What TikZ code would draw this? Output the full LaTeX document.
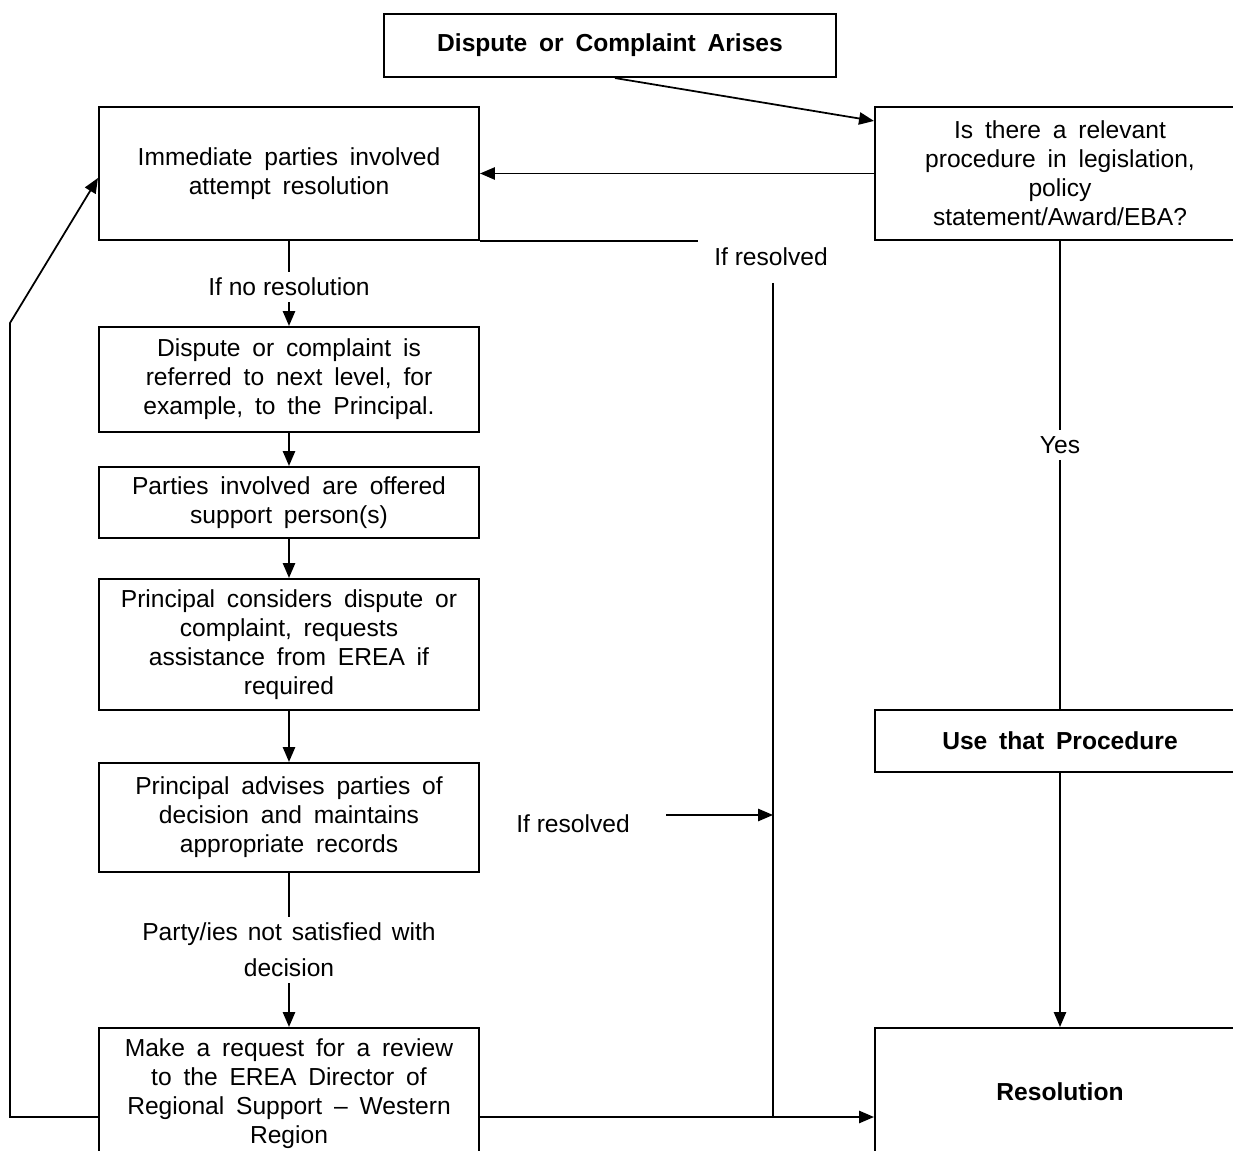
\documentclass[tikz,border=0pt]{standalone}
\usepackage{fontspec}
\setmainfont{Liberation Sans}
\usetikzlibrary{arrows.meta}
\newcommand\widewords{\spaceskip=0.48em plus 0.1em\relax}
\newcommand\midwords{\spaceskip=0.4em plus 0.1em\relax}

\begin{document}
\begin{tikzpicture}[x=0.02cm,y=-0.02cm,
    >={Triangle[length=8.5pt,width=7pt]},
    every node/.style={font=\fontsize{14}{16.5}\selectfont},
    box/.style={draw,line width=1.2pt,align=center,inner sep=0pt,
      minimum width=7.6cm,font=\fontsize{14}{16.5}\selectfont\widewords},
    link/.style={line width=1pt}]
  \useasboundingbox (0,0) rectangle (1233,1151);
  \clip (0,0) rectangle (1233,1151);
  % boxes
  \node[box,minimum width=9.04cm,minimum height=1.26cm] (arises) at (610,45.5) {\bfseries Dispute or Complaint Arises};
  \node[box,minimum height=2.66cm] (immed) at (289,173.5) {Immediate parties involved\\attempt resolution};
  \node[box,minimum width=7.4cm,minimum height=2.66cm] (relevant) at (1060,173.5) {Is there a relevant\\procedure in legislation,\\policy\\statement/Award/EBA?};
  \node[box,minimum height=2.1cm] (referred) at (289,379.5) {Dispute or complaint is\\referred to next level, for\\example, to the Principal.};
  \node[box,minimum height=1.42cm] (offered) at (289,502.5) {Parties involved are offered\\support person(s)};
  \node[box,minimum height=2.62cm] (considers) at (289,644.5) {Principal considers dispute or\\complaint, requests\\assistance from EREA if\\required};
  \node[box,minimum height=2.18cm] (advises) at (289,817.5) {Principal advises parties of\\decision and maintains\\appropriate records};
  \node[box,minimum height=2.64cm] (review) at (289,1094) {Make a request for a review\\to the EREA Director of\\Regional Support -- Western\\Region};
  \node[box,minimum width=7.4cm,minimum height=1.24cm] (useproc) at (1060,741) {\bfseries Use that Procedure};
  \node[box,minimum width=7.4cm,minimum height=2.56cm] (resol) at (1060,1092) {\bfseries Resolution};
  % labels
  \node (nores) at (289,287) {If no resolution};
  \node (ifres) at (771,257) {If resolved};
  \node (yes) at (1060,445) {Yes};
  \node (ifresb) at (573,824) {If resolved};
  \node[align=center,font=\fontsize{14}{16.5}\selectfont\midwords] (unsat) at (289,950) {Party/ies not satisfied with\\[4pt]decision};
  % helper points
  \coordinate (rtop) at (773,283);
  \coordinate (rbot) at (773,1117);
  \coordinate (rjoin) at (773,815);
  \coordinate (resstart) at (666,815);
  \coordinate (lbot) at (10,1117);
  \coordinate (ltop) at (10,323);
  % connectors
  \draw[link,->] ([xshift=0.1cm]arises.south) -- ([yshift=-0.3cm]relevant.north west);
  \draw[link,->] (relevant) -- (immed);
  \draw[link] (immed.south east) -- ++(218,0);
  \draw[link] (rtop) -- (rbot);
  \draw[link] (relevant.south) -- (yes.north);
  \draw[link] (yes.south) -- (useproc.north);
  \draw[link,->] (useproc) -- (resol);
  \draw[link] (immed) -- (nores);
  \draw[link,->] (nores) -- (referred);
  \draw[link,->] (referred) -- (offered);
  \draw[link,->] (offered) -- (considers);
  \draw[link,->] (considers) -- (advises);
  \draw[link] (advises) -- (unsat);
  \draw[link,->] (unsat) -- (review);
  \draw[link,->] (resstart) -- (rjoin);
  \draw[link,->] (review.east |- rbot) -- (resol.west |- rbot);
  \draw[link,->] (review.west |- lbot) -- (lbot) -- (ltop) -- ([yshift=-0.09cm]immed.west);
\end{tikzpicture}
\end{document}
